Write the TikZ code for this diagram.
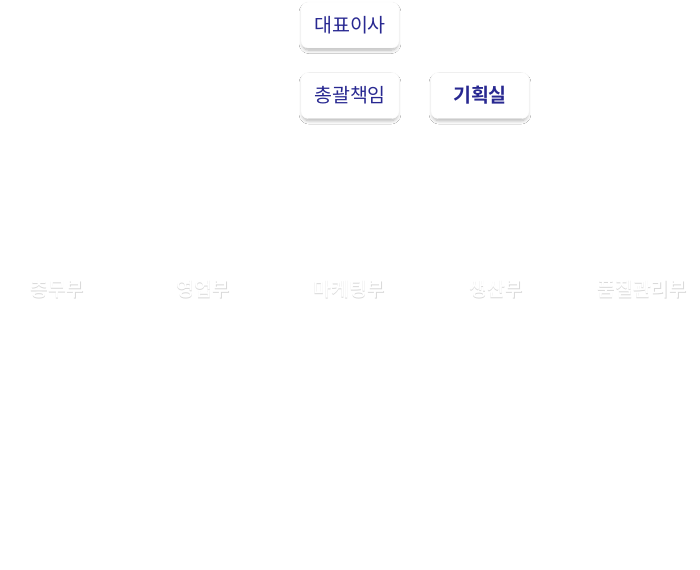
\documentclass[tikz,border=0pt]{standalone}
\usepackage{fontspec}
\newfontfamily\krfont{Noto Sans CJK KR}
\newfontfamily\krmed{Noto Sans CJK KR Medium}
\newfontfamily\krbold{Noto Sans CJK KR Bold}
\usetikzlibrary{shadows.blur}
\definecolor{navy}{RGB}{40,40,145}
\tikzset{
  topbox/.style={draw=gray!5, fill=white, rounded corners=7bp, minimum width=98bp, minimum height=46bp,
    text=navy, font=\krfont\fontsize{19.5bp}{22bp}\selectfont,
    blur shadow={shadow xshift=0bp, shadow yshift=-3bp, shadow scale=0.97, shadow blur radius=3.5bp, shadow blur steps=10, shadow opacity=30}},
  depttext/.style={text=white, font=\krmed\fontsize{19.5bp}{22bp}\selectfont},
  deptshadow/.style={text=gray!30, font=\krmed\fontsize{19.5bp}{22bp}\selectfont}
}
\begin{document}
\begin{tikzpicture}[x=1bp,y=-1bp]
\useasboundingbox[fill=white] (0,0) rectangle (700,570);
\node[topbox] (ceo) at (350,25) {대표이사};
\node[topbox] (gen) at (350,95.5) {총괄책임};
\node[topbox, font=\krbold\fontsize{19.5bp}{22bp}\selectfont] (plan) at (480,95.5) {기획실};
\foreach \n/\x/\t in {d1/57/총무부, d2/203/영업부, d3/349/마케팅부, d4/496/생산부, d5/642/품질관리부}{
  \node[deptshadow] at (\x+0.6,290) {\t};
  \node[depttext] (\n) at (\x,289) {\t};
}
\end{tikzpicture}
\end{document}
